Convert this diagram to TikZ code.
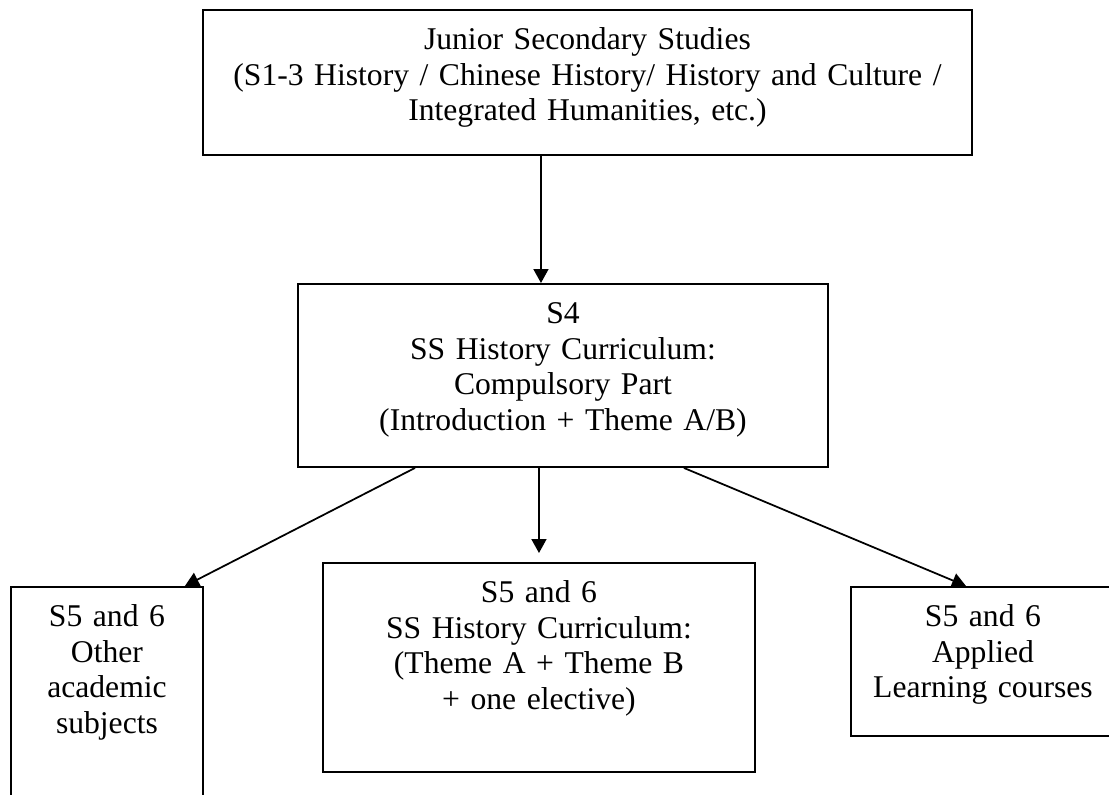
\documentclass[tikz,border=0pt]{standalone}
\usepackage{fontspec}
\setmainfont{Liberation Serif}
\usepackage{tikz}
\usetikzlibrary{arrows.meta}

\begin{document}
\begin{tikzpicture}[
    box/.style={draw, line width=1.1pt, anchor=north west, inner xsep=0.2cm, inner ysep=0pt,
        align=center, text height=0.8cm, font=\fontsize{18pt}{20.2pt}\selectfont},
    arrow/.style={-{Triangle[length=0.28cm, width=0.3cm]}, line width=1pt}
]
    % Page frame
    \useasboundingbox (0,0) rectangle (22.18,-15.88);
    \clip (0,0) rectangle (22.18,-15.88);

    % Junior secondary box
    \node[box, text width=14.98cm, text depth=2.1cm] (junior) at (4.04,-0.18)
        {Junior Secondary Studies\\(S1-3 History / Chinese History/ History and Culture /\\Integrated Humanities, etc.)};

    % S4 compulsory part
    \node[box, text width=10.2cm, text depth=2.86cm] (compulsory) at (5.94,-5.66)
        {S4\\SS History Curriculum:\\Compulsory Part\\(Introduction + Theme A/B)};

    % S5 and 6 boxes
    \node[box, text width=3.44cm, text depth=4.48cm] (other) at (0.2,-11.72)
        {S5 and 6\\Other\\academic\\subjects};
    \node[box, text width=8.24cm, text depth=3.38cm] (elective) at (6.44,-11.24)
        {S5 and 6\\SS History Curriculum:\\(Theme A + Theme B\\+ one elective)};
    \node[box, text width=4.88cm, text depth=2.18cm] (applied) at (17.0,-11.72)
        {S5 and 6\\Applied\\Learning courses};

    % Arrows
    \draw[arrow] ([xshift=-0.93cm]junior.south) -- ([xshift=-0.44cm]compulsory.north);
    \draw[arrow] ([xshift=2.36cm]compulsory.south west) -- ([xshift=-0.38cm]other.north east);
    \draw[arrow] ([xshift=-0.48cm]compulsory.south) -- ([yshift=0.18cm]elective.north);
    \draw[arrow] ([xshift=-2.9cm]compulsory.south east) -- ([xshift=2.32cm]applied.north west);
\end{tikzpicture}
\end{document}
